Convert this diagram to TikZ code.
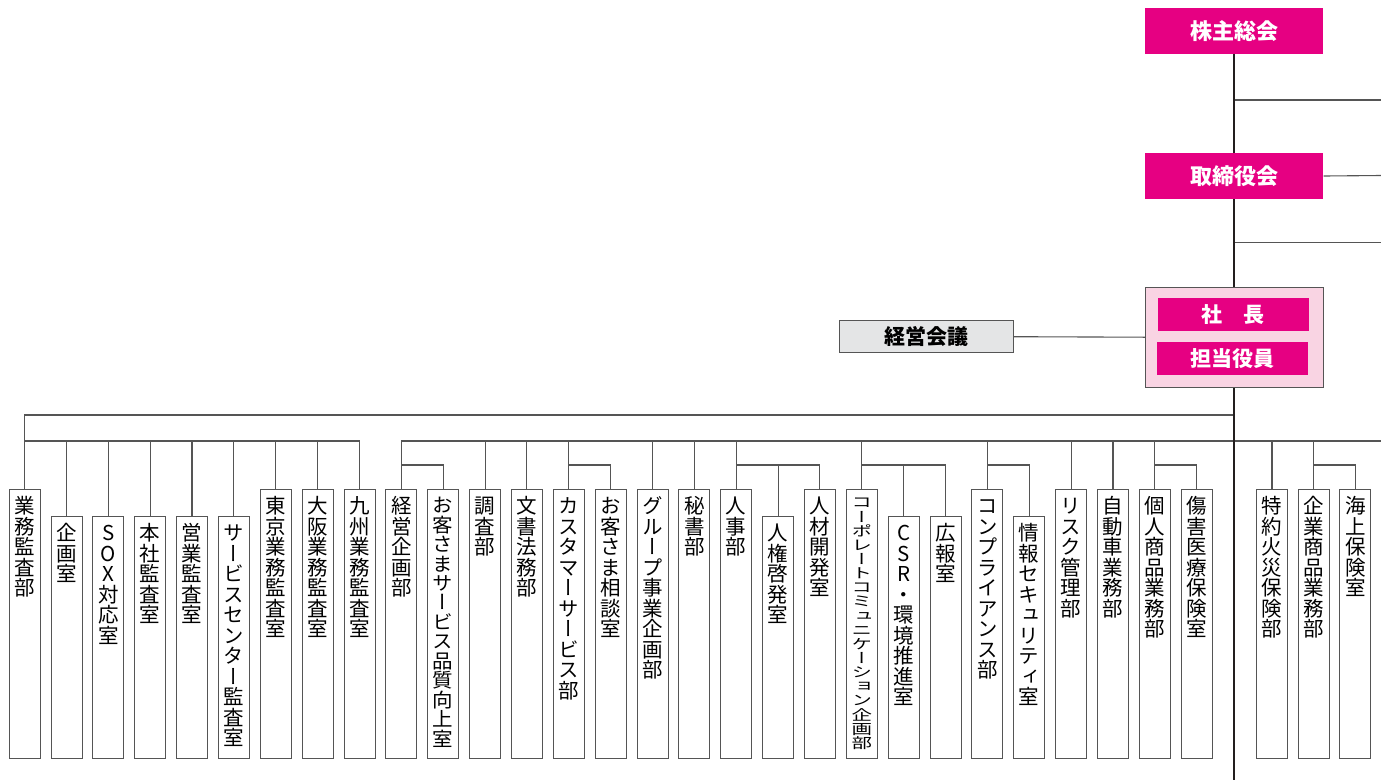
\documentclass[tikz,border=0pt]{standalone}
\usepackage{fontspec}
\usepackage{graphicx}
\newfontfamily\jp{Noto Sans CJK JP}
\newfontfamily\jptate[RawFeature=+vert]{Noto Sans CJK JP}
\definecolor{brandmag}{RGB}{230,0,130}
\definecolor{palepink}{RGB}{249,212,227}
\definecolor{panelgray}{RGB}{228,229,230}
\definecolor{linegray}{RGB}{85,85,85}
\definecolor{trunkblack}{RGB}{35,30,30}

% one upright character per line (vertical setting)
\newcommand\tatechar[1]{\hbox to 1em{\hss\vrule height .88em depth .12em width 0pt #1\hss}}
\def\tateloop#1{\ifx\relax#1\else\tatechar{#1}\expandafter\tateloop\fi}
\newcommand\tate[2][1]{\hbox{\scalebox{1}[#1]{\vbox{\offinterlineskip\tateloop#2\relax}}}}
\newcommand\longdept[2][1]{\vbox to 268.7pt{\vskip 6pt\tate[#1]{#2}\vss}}
\newcommand\shortdept[2][1]{\vbox to 241.7pt{\vskip 6pt\tate[#1]{#2}\vss}}

\begin{document}
\begin{tikzpicture}[x=1pt,y=-1pt,
  exec/.style={fill=brandmag, text=white, inner sep=0pt, font=\jp\bfseries\fontsize{22}{22}\selectfont},
  dept/.style={draw=linegray, line width=0.9pt, fill=white, inner sep=0pt, minimum width=31pt, anchor=north, font=\jptate\fontsize{20.5}{20.5}\selectfont},
  link/.style={draw=linegray, line width=1.1pt},
  trunk/.style={draw=trunkblack, line width=2pt}]
  \useasboundingbox[fill=white] (0,0) rectangle (1381,780);

  % top of the chart
  \node[exec, minimum width=178.2pt, minimum height=45.7pt] (soukai) at (1234.2,30.9) {株主総会};
  \node[exec, minimum width=178.2pt, minimum height=46pt] (torishimari) at (1234.2,176) {取締役会};
  \node[draw=linegray, line width=0.9pt, fill=palepink, minimum width=177.5pt, minimum height=100.3pt, inner sep=0pt] (top) at (1234.2,337.2) {};
  \node[exec, minimum width=151pt, minimum height=33pt, font=\jp\bfseries\fontsize{21}{21}\selectfont] (shacho) at (1233.4,314.5) {社　長};
  \node[exec, minimum width=151pt, minimum height=33pt, font=\jp\bfseries\fontsize{21}{21}\selectfont] (tantou) at (1232.6,358.5) {担当役員};
  \node[draw=linegray, line width=0.9pt, fill=panelgray, minimum width=174.3pt, minimum height=32pt, inner sep=0pt, font=\jp\bfseries\fontsize{21}{21}\selectfont] (kaigi) at (926.6,336.7) {経営会議};

  \coordinate (edge1) at (1381,100);
  \coordinate (edge2) at (1381,175.5);
  \coordinate (edge3) at (1381,242.7);
  \coordinate (edgeB) at (1381,441);
  \coordinate (busA) at (0,415);
  \coordinate (busB) at (0,441);
  \coordinate (busC) at (0,465);
  \coordinate (floor) at (0,780);

  % audit group
  \node[dept] (gyomukansa) at (24.6,489) {\longdept{業務監査部}};
  \node[dept] (kikaku) at (66.5,516) {\shortdept{企画室}};
  \node[dept] (sox) at (108.3,516) {\shortdept{SOX対応室}};
  \node[dept] (honsha) at (150.2,516) {\shortdept{本社監査室}};
  \node[dept] (eigyo) at (192.0,516) {\shortdept{営業監査室}};
  \node[dept] (center) at (233.9,516) {\shortdept{サービスセンター監査室}};
  \node[dept] (tokyo) at (275.8,489) {\longdept{東京業務監査室}};
  \node[dept] (osaka) at (317.6,489) {\longdept{大阪業務監査室}};
  \node[dept] (kyushu) at (359.5,489) {\longdept{九州業務監査室}};

  % head office group
  \node[dept] (keieikikaku) at (401.3,489) {\longdept{経営企画部}};
  \node[dept] (hinshitsu) at (443.2,489) {\longdept[0.95]{お客さまサービス品質向上室}};
  \node[dept] (chousa) at (485.1,489) {\longdept{調査部}};
  \node[dept] (bunsho) at (526.9,489) {\longdept{文書法務部}};
  \node[dept] (customer) at (568.8,489) {\longdept{カスタマーサービス部}};
  \node[dept] (soudan) at (610.6,489) {\longdept{お客さま相談室}};
  \node[dept] (group) at (652.5,489) {\longdept{グループ事業企画部}};
  \node[dept] (hisho) at (694.4,489) {\longdept{秘書部}};
  \node[dept] (jinji) at (736.2,489) {\longdept{人事部}};
  \node[dept] (jinken) at (778.1,516) {\shortdept{人権啓発室}};
  \node[dept] (jinzai) at (819.9,489) {\longdept{人材開発室}};
  \node[dept] (corpcomm) at (861.8,489) {\longdept[0.69]{コーポレートコミュニケーション企画部}};
  \node[dept] (csr) at (903.7,516) {\shortdept{CSR・環境推進室}};
  \node[dept] (kouhou) at (945.5,516) {\shortdept{広報室}};
  \node[dept] (compliance) at (987.4,489) {\longdept{コンプライアンス部}};
  \node[dept] (security) at (1029.2,516) {\shortdept{情報セキュリティ室}};
  \node[dept] (risk) at (1071.1,489) {\longdept{リスク管理部}};
  \node[dept] (jidousha) at (1113.0,489) {\longdept{自動車業務部}};
  \node[dept] (kojin) at (1154.8,489) {\longdept{個人商品業務部}};
  \node[dept] (shougai) at (1196.7,489) {\longdept{傷害医療保険室}};

  % right of the trunk
  \node[dept] (tokuyaku) at (1272.0,489) {\longdept{特約火災保険部}};
  \node[dept] (kigyou) at (1313.7,489) {\longdept{企業商品業務部}};
  \node[dept] (kaijou) at (1355.3,489) {\longdept{海上保険室}};

  % lines off to the right
  \draw[link] (soukai.south |- edge1) -- (edge1);
  \draw[link] (torishimari.east) -- (edge2);
  \draw[link] (soukai.south |- edge3) -- (edge3);
  \draw[link] (kaigi.east) -- (top.west);

  % audit group
  \draw[link] (top.south |- busA) -| (gyomukansa.north);
  \draw[link] (gyomukansa.north |- busB) -| (kyushu.north);
  \foreach \d in {kikaku,sox,honsha,eigyo,center,tokyo,osaka}
    \draw[link] (\d.north) -- (\d.north |- busB);

  % other groups
  \draw[link] (keieikikaku.north) |- (edgeB);
  \foreach \d in {chousa,bunsho,customer,group,hisho,jinji,corpcomm,compliance,risk,jidousha,kojin,tokuyaku,kigyou}
    \draw[link] (\d.north) -- (\d.north |- busB);
  \draw[link] (keieikikaku.north |- busC) -| (hinshitsu.north);
  \draw[link] (customer.north |- busC) -| (soudan.north);
  \draw[link] (jinji.north |- busC) -| (jinzai.north);
  \draw[link] (jinken.north) -- (jinken.north |- busC);
  \draw[link] (corpcomm.north |- busC) -| (kouhou.north);
  \draw[link] (csr.north) -- (csr.north |- busC);
  \draw[link] (compliance.north |- busC) -| (security.north);
  \draw[link] (kojin.north |- busC) -| (shougai.north);
  \draw[link] (kigyou.north |- busC) -| (kaijou.north);

  % trunk
  \draw[trunk] (soukai.south) -- (torishimari.north);
  \draw[trunk] (torishimari.south) -- (top.north);
  \draw[trunk] (top.south) -- (top.south |- floor);
\end{tikzpicture}
\end{document}
